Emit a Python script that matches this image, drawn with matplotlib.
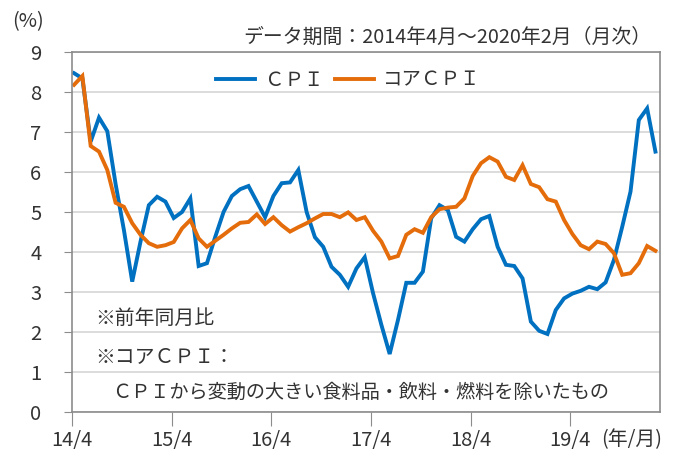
import numpy as np
import pandas as pd
import matplotlib
matplotlib.use("Agg")
import matplotlib.pyplot as plt

plt.rcParams['font.family'] = ['Noto Sans CJK JP', 'DejaVu Sans']

# Monthly data, 2014/4 - 2020/2 (year-on-year %)
months = pd.period_range("2014-04", "2020-02", freq="M")
cpi = [8.47, 8.34, 6.76, 7.36, 7.02, 5.7, 4.55, 3.26, 4.26, 5.17, 5.38, 5.26,
       4.85, 5.0, 5.34, 3.65, 3.72, 4.38, 5.0, 5.4, 5.57, 5.65, 5.26, 4.87,
       5.4, 5.72, 5.74, 6.05, 5.0, 4.37, 4.13, 3.63, 3.43, 3.13, 3.59, 3.87,
       2.97, 2.18, 1.45, 2.3, 3.23, 3.23, 3.51, 4.84, 5.17, 5.05, 4.38, 4.26,
       4.57, 4.82, 4.9, 4.13, 3.68, 3.65, 3.34, 2.26, 2.03, 1.95, 2.55, 2.84,
       2.96, 3.03, 3.13, 3.07, 3.24, 3.8, 4.63, 5.51, 7.3, 7.59, 6.51]
core_cpi = [8.18, 8.4, 6.65, 6.51, 6.05, 5.23, 5.13, 4.72, 4.43, 4.22, 4.13, 4.17,
            4.25, 4.59, 4.8, 4.34, 4.13, 4.28, 4.43, 4.59, 4.73, 4.75, 4.94, 4.7,
            4.87, 4.67, 4.51, 4.62, 4.72, 4.84, 4.95, 4.95, 4.87, 4.99, 4.8, 4.87,
            4.53, 4.26, 3.84, 3.9, 4.43, 4.57, 4.48, 4.87, 5.07, 5.11, 5.13, 5.34,
            5.9, 6.22, 6.37, 6.26, 5.88, 5.8, 6.17, 5.7, 5.62, 5.32, 5.26, 4.8,
            4.45, 4.17, 4.07, 4.26, 4.2, 3.97, 3.43, 3.47, 3.72, 4.15, 4.03]
tick_labels = ["14/4", "15/4", "16/4", "17/4", "18/4", "19/4"]

blue = "#0070C0"
orange = "#E46C0A"
text_c = "#333333"
edge_c = "#8C8C8C"

x = np.arange(len(months))

fig = plt.figure(figsize=(6.81, 4.59), dpi=100)
ax = fig.add_axes([72/681, 47/459, 588/681, 360/459])

ax.plot(x, cpi, color=blue, lw=2.8, label="ＣＰＩ", solid_joinstyle="miter")
ax.plot(x, core_cpi, color=orange, lw=2.8, label="コアＣＰＩ", solid_joinstyle="miter")

ax.set_xlim(-0.25, 70.55)
ax.set_ylim(0, 9)
ax.set_yticks(range(10))
ax.set_xticks(np.arange(0, 61, 12) - 0.25)
ax.set_xticklabels(tick_labels)
ax.yaxis.grid(True, color="#D9D9D9", lw=1.3)
ax.set_axisbelow(True)
for s in ax.spines.values():
    s.set_color(edge_c)
    s.set_linewidth(1.2)
ax.tick_params(axis="y", length=6, color=edge_c, labelsize=14.5, labelcolor=text_c, pad=16)
ax.tick_params(axis="x", length=10, color=edge_c, labelsize=14.5, labelcolor=text_c, pad=3)

ax.legend(loc="upper center", bbox_to_anchor=(0.47, 1.0), ncol=2, frameon=False,
          fontsize=14, handlelength=2.0, handletextpad=0.5, columnspacing=0.6,
          labelcolor=text_c)

fs = 14.3
fig.text(28/681, 1 - 22/459, "(%)", fontsize=fs, color=text_c, ha="center", va="center")
fig.text(651/681, 1 - 37/459, "データ期間：2014年4月～2020年2月（月次）",
         fontsize=fs, color=text_c, ha="right", va="center")
fig.text(95/681, 1 - 318/459, "※前年同月比", fontsize=fs, color=text_c, va="center")
fig.text(95/681, 1 - 357/459, "※コアＣＰＩ：", fontsize=fs, color=text_c, va="center")
fig.text(361/681, 1 - 392/459, "ＣＰＩから変動の大きい食料品・飲料・燃料を除いたもの",
         fontsize=13.8, color=text_c, ha="center", va="center")
fig.text(632/681, 1 - 440/459, "(年/月)", fontsize=fs, color=text_c, ha="center", va="center")

fig.savefig("out.png", dpi=100)
